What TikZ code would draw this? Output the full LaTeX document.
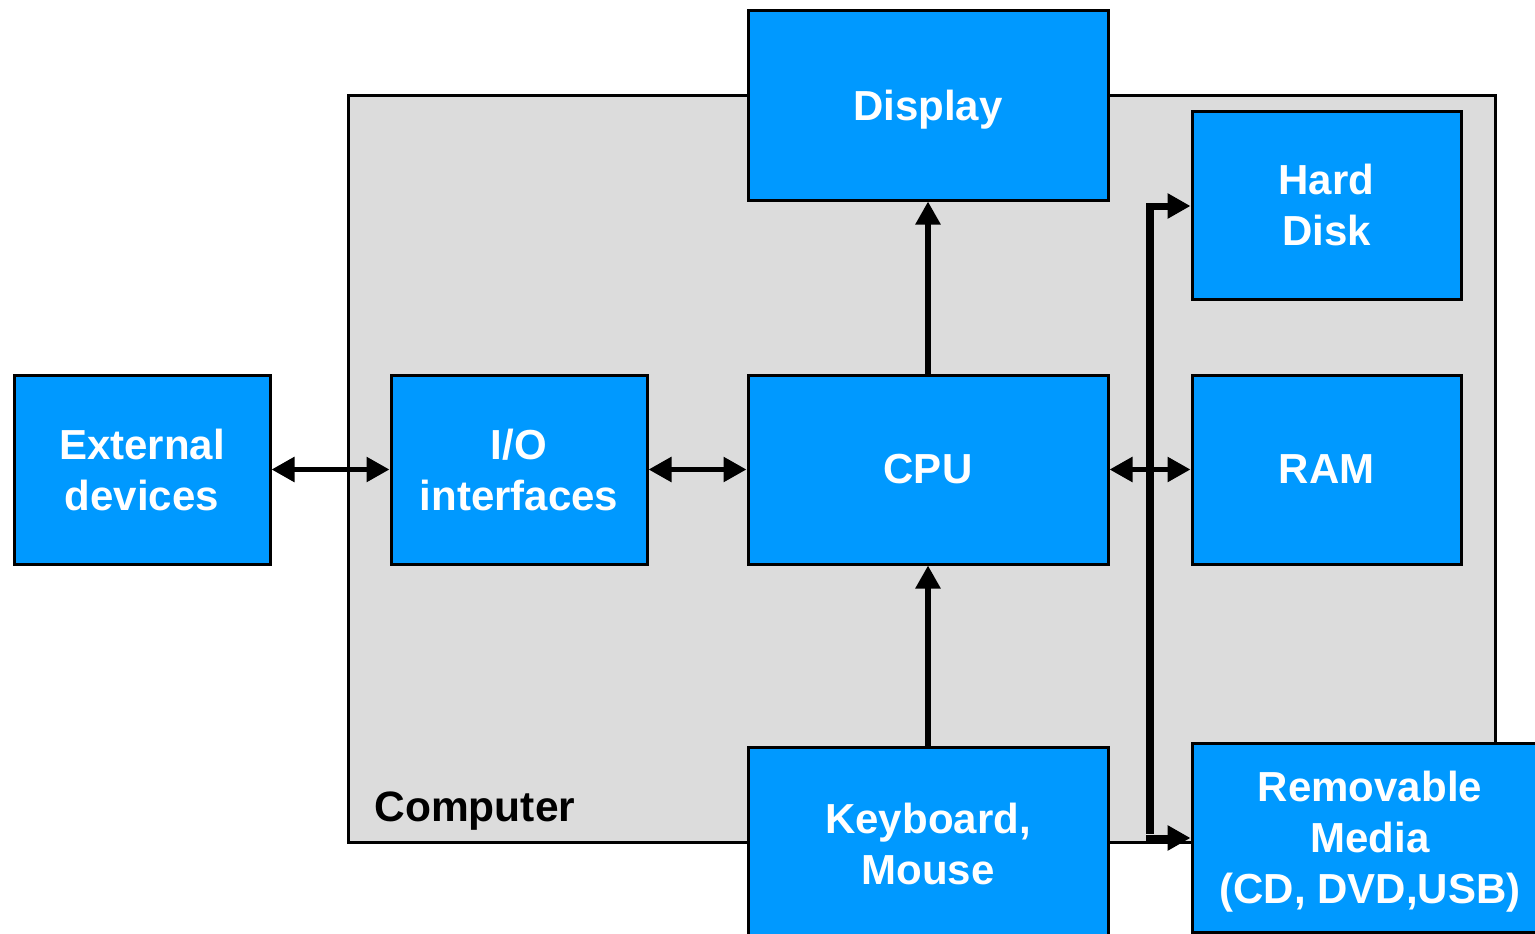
\documentclass[tikz,border=0pt]{standalone}
\usepackage{fontspec}
\setmainfont{Liberation Sans}
\usetikzlibrary{arrows.meta}
\definecolor{boxblue}{HTML}{0099FF}
\definecolor{compgray}{HTML}{DCDCDC}
\tikzset{
  blk/.style={draw=black, line width=3pt, fill=boxblue, text=white, align=center,
    font=\fontsize{42}{51}\selectfont\bfseries, inner sep=0pt},
  conn/.style={line width=5.5pt, {Triangle[length=23pt,width=24pt]}-{Triangle[length=23pt,width=24pt]}},
  oneway/.style={line width=5.5pt, -{Triangle[length=23pt,width=24pt]}},
  busline/.style={line width=7.5pt},
  busarr/.style={line width=7pt, -{Triangle[length=23pt,width=24pt]}}
}
\begin{document}
\begin{tikzpicture}[x=1pt,y=-1pt]
\useasboundingbox (0,0) rectangle (1535,934);
\clip (0,0) rectangle (1535,934);
\node[draw=black, line width=3pt, fill=compgray, minimum width=1147pt, minimum height=746pt, inner sep=0pt] (comp) at (921.5,469) {};
\node[anchor=base west, font=\fontsize{42.5}{50}\selectfont\bfseries] (complabel) at (371,821) {Computer};
\node[blk, minimum width=360pt, minimum height=189pt, text depth=0pt] (disp) at (928,105.5) {Display};
\node[blk, minimum width=269pt, minimum height=188pt] (hd) at (1326.5,205) {Hard\\Disk};
\node[blk, minimum width=256pt, minimum height=189pt] (ext) at (142,469.5) {External\\devices};
\node[blk, minimum width=256pt, minimum height=189pt] (io) at (519,469.5) {I/O\\interfaces};
\node[blk, minimum width=360pt, minimum height=189pt] (cpu) at (928,469.5) {CPU};
\node[blk, minimum width=269pt, minimum height=189pt] (ram) at (1326.5,469.5) {RAM};
\node[blk, minimum width=360pt, minimum height=193pt] (kb) at (928,843.5) {Keyboard,\\Mouse};
\node[blk, minimum width=356pt, minimum height=189pt, text depth=0pt] (rem) at (1370,837.5) {Removable\\Media\\(CD, DVD,USB)};
\coordinate (bustop) at (1150,206);
\coordinate (busbot) at (1150,838);
\draw[oneway] (cpu.north) -- (disp.south);
\draw[oneway] (kb.north) -- (cpu.south);
\draw[conn] (ext.east) -- (io.west);
\draw[conn] (io.east) -- (cpu.west);
\draw[busline] ([yshift=-3.75pt]bustop) -- ([yshift=3.75pt]busbot);
\draw[busarr] ([xshift=-3.75pt]bustop) -- (bustop -| hd.west);
\draw[busarr] ([xshift=-3.75pt]busbot) -- (busbot -| rem.west);
\draw[conn] (cpu.east) -- (ram.west);
\end{tikzpicture}
\end{document}
